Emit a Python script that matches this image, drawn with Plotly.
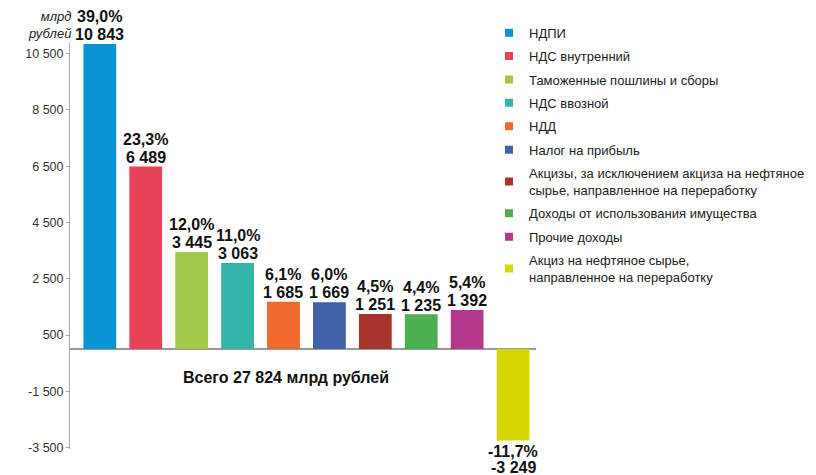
import plotly.graph_objects as go

categories = ["НДПИ", "НДС внутренний", "Таможенные пошлины и сборы", "НДС ввозной", "НДД",
              "Налог на прибыль",
              "Акцизы, за исключением акциза на нефтяное<br>сырье, направленное на переработку",
              "Доходы от использования имущества", "Прочие доходы",
              "Акциз на нефтяное сырье,<br>направленное на переработку"]
values = [10843, 6489, 3445, 3063, 1685, 1669, 1251, 1235, 1392, -3249]
shares = ["39,0%", "23,3%", "12,0%", "11,0%", "6,1%", "6,0%", "4,5%", "4,4%", "5,4%", "-11,7%"]
value_labels = ["10 843", "6 489", "3 445", "3 063", "1 685", "1 669", "1 251", "1 235", "1 392", "-3 249"]
colors = ["#0A93D4", "#E9435A", "#A3C94A", "#35B5A9", "#EE6A2C", "#4161A8", "#A8322C",
          "#4CAF50", "#B4398D", "#D4D800"]
tick_vals = [10500, 8500, 6500, 4500, 2500, 500, -1500, -3500]
tick_text = ["10 500", "8 500", "6 500", "4 500", "2 500", "500", "-1 500", "-3 500"]
total_text = "Всего 27 824 млрд рублей"
unit_text = "млрд<br>рублей"

FONT = "Liberation Sans, Arial, sans-serif"
LBL = dict(family=FONT, size=16, color="#111")

fig = go.Figure()
for i, (cat, val, col) in enumerate(zip(categories, values, colors)):
    fig.add_trace(go.Bar(
        x=[i], y=[val], name=cat, marker=dict(color=col, line=dict(width=0)),
        width=0.714, showlegend=False, hoverinfo="skip",
    ))
    # legend entry with a small square swatch
    fig.add_trace(go.Scatter(
        x=[None], y=[None], mode="markers", name=cat, legendgroup=str(i),
        marker=dict(symbol="square", size=8, color=col), hoverinfo="skip",
    ))
    if val < 0:
        v_shift, s_shift = -26.7, -11
    else:
        v_shift, s_shift = 9.3, 27.3
    fig.add_annotation(x=i, y=val, xref="x", yref="y", text=f"<b>{value_labels[i]}</b>",
                       showarrow=False, yanchor="middle", yshift=v_shift, font=LBL)
    fig.add_annotation(x=i, y=val, xref="x", yref="y", text=f"<b>{shares[i]}</b>",
                       showarrow=False, yanchor="middle", yshift=s_shift, font=LBL)

fig.add_annotation(x=4.05, y=-1020, xref="x", yref="y", text=f"<b>{total_text}</b>",
                   showarrow=False, font=LBL)
fig.add_annotation(x=0, y=1.0443, xref="paper", yref="paper", xanchor="right", yanchor="middle",
                   text=f"<i>{unit_text}</i>", align="right", showarrow=False, xshift=3,
                   font=dict(family=FONT, size=13, color="#222"))

fig.update_layout(
    width=816, height=475,
    margin=dict(l=70, r=280, t=43, b=26, autoexpand=False),
    plot_bgcolor="white", paper_bgcolor="white",
    barmode="overlay",
    showlegend=True,
    legend=dict(xref="container", yref="container", x=0.5993, y=0.9627, xanchor="left",
                yanchor="top", font=dict(family=FONT, size=13, color="#222"), tracegroupgap=3.5,
                maxheight=470, itemclick=False, bgcolor="rgba(0,0,0,0)"),
    xaxis=dict(range=[-0.65, 9.5], showticklabels=False, showgrid=False, zeroline=False,
               showline=False, ticks=""),
    yaxis=dict(range=[-3550, 10880], tickvals=tick_vals, ticktext=tick_text, showgrid=False,
               zeroline=True, zerolinecolor="#999", zerolinewidth=2,
               showline=True, linecolor="#aaa", linewidth=1, ticks="outside", ticklen=3,
               tickcolor="#aaa", tickfont=dict(family=FONT, size=12.5, color="#333")),
)

fig.write_html("out.html", config={"displayModeBar": False},
               post_script="document.body.style.margin='0';document.body.style.overflow='hidden';")
